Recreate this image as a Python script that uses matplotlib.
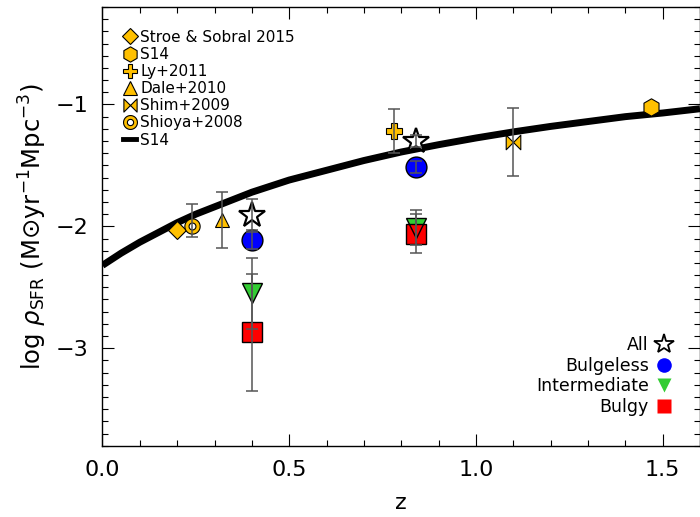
import numpy as np
import matplotlib
matplotlib.use("Agg")
import matplotlib.pyplot as plt
from matplotlib.path import Path
from matplotlib.lines import Line2D
from matplotlib.ticker import MultipleLocator, FormatStrFormatter, FuncFormatter

# ---- S14 parametric fit of the cosmic SFR density, sampled in redshift
fit_z = [0.0, 0.05, 0.1, 0.15, 0.2, 0.25, 0.3, 0.4, 0.5, 0.6, 0.7, 0.8, 0.9,
         1.0, 1.1, 1.2, 1.3, 1.4, 1.5, 1.6]
fit_logsfrd = [-2.32, -2.22, -2.13, -2.05, -1.97, -1.90, -1.84, -1.72, -1.62,
               -1.54, -1.46, -1.39, -1.33, -1.275, -1.225, -1.18, -1.14,
               -1.10, -1.07, -1.035]

# ---- literature H-alpha measurements
stroe_z, stroe_y = [0.20], [-2.03]
s14_z, s14_y = [1.47], [-1.02]
ly_z, ly_y, ly_err = [0.78], [-1.22], [0.18]
dale_z, dale_y, dale_err = [0.32], [-1.95], [0.23]
shim_z, shim_y, shim_err = [1.10], [-1.31], [0.28]
shioya_z, shioya_y = [0.24], [-2.00]
shioya_err_lo, shioya_err_hi = [0.09], [0.18]

# ---- this sample, split by morphology
sample_z = [0.40, 0.84]
all_y, all_err = [-1.91, -1.30], [0.135, 0.05]
bulgeless_y, bulgeless_err = [-2.11, -1.51], [0.08, 0.05]
intermediate_y, intermediate_err = [-2.55, -2.01], [0.29, 0.14]
bulgy_y, bulgy_err = [-2.87, -2.06], [0.48, 0.16]

GOLD = "#FFC000"
BLUE = "#0000FF"
GREEN = "#33CC33"
RED = "#FF0000"
ERRC = "#555555"

# custom marker shapes
bowtie = Path([(-1, -1), (0, 0), (-1, 1), (-1, -1),
               (1, -1), (0, 0), (1, 1), (1, -1)],
              [Path.MOVETO, Path.LINETO, Path.LINETO, Path.CLOSEPOLY,
               Path.MOVETO, Path.LINETO, Path.LINETO, Path.CLOSEPOLY])
_t = np.linspace(0, 2 * np.pi, 65)
_outer = np.column_stack([np.cos(_t), np.sin(_t)])
_inner = 0.45 * np.column_stack([np.cos(-_t), np.sin(-_t)])
ring = Path(np.vstack([_outer, _inner]),
            [Path.MOVETO] + [Path.LINETO] * 63 + [Path.CLOSEPOLY]
            + [Path.MOVETO] + [Path.LINETO] * 63 + [Path.CLOSEPOLY])

plt.rcParams["font.family"] = ["DejaVu Sans"]
plt.rcParams["mathtext.fontset"] = "dejavusans"

fig = plt.figure(figsize=(7.0, 5.17), dpi=100)
ax = fig.add_axes([0.1464, 0.1379, 0.8536, 0.8486])

# fit curve underneath everything
ax.plot(fit_z, fit_logsfrd, color="k", lw=5, zorder=2, solid_capstyle="butt",
        solid_joinstyle="round")

# error bars sit on top of the symbols
ekw = dict(fmt="none", ecolor=ERRC, elinewidth=1.1, capsize=4, capthick=1.1, zorder=6)
ax.errorbar(ly_z, ly_y, yerr=ly_err, **ekw)
ax.errorbar(dale_z, dale_y, yerr=dale_err, **ekw)
ax.errorbar(shim_z, shim_y, yerr=shim_err, **ekw)
ax.errorbar(shioya_z, shioya_y, yerr=[shioya_err_lo, shioya_err_hi], **ekw)

mstyle = dict(ls="none", mfc=GOLD, mec="k", mew=0.8)
ax.plot(stroe_z, stroe_y, marker="D", ms=9, zorder=5, **mstyle)
ax.plot(s14_z, s14_y, marker="h", ms=12.5, zorder=5, **mstyle)
ax.plot(ly_z, ly_y, marker="P", ms=11, zorder=5, **mstyle)
ax.plot(dale_z, dale_y, marker="^", ms=10.5, zorder=5, **mstyle)
ax.plot(shim_z, shim_y, marker=bowtie, ms=10.5, zorder=5, **mstyle)
ax.plot(shioya_z, shioya_y, marker=ring, ms=11, zorder=5, **mstyle)

ax.errorbar(sample_z, all_y, yerr=all_err, **ekw)
ax.errorbar(sample_z, bulgeless_y, yerr=bulgeless_err, **ekw)
ax.errorbar(sample_z, intermediate_y, yerr=intermediate_err, **ekw)
ax.errorbar(sample_z, bulgy_y, yerr=bulgy_err, **ekw)

ax.plot(sample_z, intermediate_y, ls="none", marker="v", ms=15,
        mfc=GREEN, mec="none", zorder=3)
ax.plot(sample_z, bulgy_y, ls="none", marker="s", ms=15,
        mfc=RED, mec="k", mew=1.0, zorder=4)
ax.plot(sample_z, intermediate_y, ls="none", marker="v", ms=15,
        mfc="none", mec="k", mew=1.0, zorder=5)
ax.plot(sample_z, bulgeless_y, ls="none", marker="o", ms=15,
        mfc=BLUE, mec="k", mew=1.0, zorder=5)
ax.plot(sample_z, all_y, ls="none", marker="*", ms=19,
        mfc="white", mec="k", mew=1.6, zorder=5)

ax.set_xlim(0, 1.6)
ax.set_ylim(-3.8, -0.2)
ax.xaxis.set_major_locator(MultipleLocator(0.5))
ax.xaxis.set_minor_locator(MultipleLocator(0.1))
ax.yaxis.set_major_locator(MultipleLocator(1.0))
ax.yaxis.set_minor_locator(MultipleLocator(0.1))
ax.xaxis.set_major_formatter(FormatStrFormatter("%.1f"))
ax.yaxis.set_major_formatter(FuncFormatter(lambda v, p: "\u2212%d" % round(-v)))
ax.tick_params(which="both", direction="in", top=True, right=True,
               width=0.8, labelsize=16)
ax.tick_params(which="major", length=8.5)
ax.tick_params(which="minor", length=4.3)
ax.tick_params(axis="x", pad=10)
ax.tick_params(axis="y", pad=10)
for s in ax.spines.values():
    s.set_linewidth(1.0)

ax.set_xlabel("z", fontsize=16, labelpad=10)
ax.set_ylabel(r"log $\rho_{\rm SFR}$ (M$\odot$yr$^{-1}$Mpc$^{-3}$)",
              fontsize=17.5, labelpad=5)

# literature legend
lstyle = dict(ls="none", mfc=GOLD, mec="k", mew=0.8)
lit_handles = [
    Line2D([], [], marker="D", ms=8, **lstyle),
    Line2D([], [], marker="h", ms=11, **lstyle),
    Line2D([], [], marker="P", ms=10, **lstyle),
    Line2D([], [], marker="^", ms=10, **lstyle),
    Line2D([], [], marker=bowtie, ms=9.5, **lstyle),
    Line2D([], [], marker=ring, ms=10, **lstyle),
    Line2D([], [], color="k", lw=3.5),
]
lit_labels = ["Stroe & Sobral 2015", "S14", "Ly+2011", "Dale+2010",
              "Shim+2009", "Shioya+2008", "S14"]
leg1 = ax.legend(lit_handles, lit_labels, loc="upper left",
                 bbox_to_anchor=(0.035, 0.948), frameon=False, fontsize=11,
                 handlelength=0.8, handletextpad=0.3, labelspacing=0.14,
                 borderpad=0, borderaxespad=0)
ax.add_artist(leg1)

# morphology legend
morph_handles = [
    Line2D([], [], ls="none", marker="*", ms=15, mfc="white", mec="k", mew=1.3),
    Line2D([], [], ls="none", marker="o", ms=10.5, mfc=BLUE, mec="none"),
    Line2D([], [], ls="none", marker="v", ms=10.5, mfc=GREEN, mec="none"),
    Line2D([], [], ls="none", marker="s", ms=10.5, mfc=RED, mec="none"),
]
morph_labels = ["All", "Bulgeless", "Intermediate", "Bulgy"]
ax.legend(morph_handles, morph_labels, loc="lower right",
          bbox_to_anchor=(0.955, 0.068), frameon=False, fontsize=12.5,
          markerfirst=False, handlelength=1.0, handletextpad=0.4,
          labelspacing=0.15, borderpad=0, borderaxespad=0)

fig.savefig("out.png", dpi=100)
